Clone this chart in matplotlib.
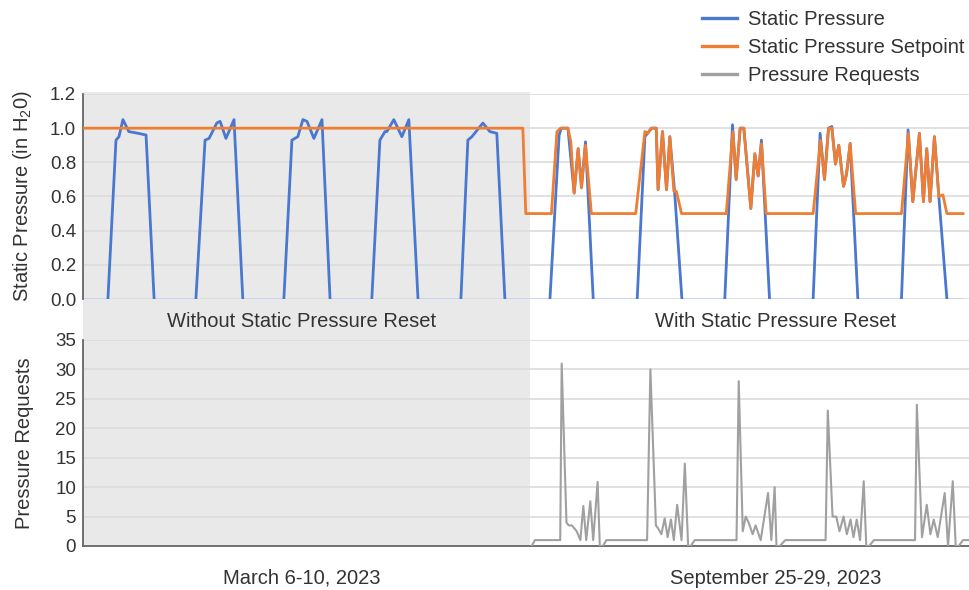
import numpy as np
import matplotlib
matplotlib.use("Agg")
import matplotlib.pyplot as plt
import matplotlib.transforms as mtransforms
from matplotlib.patches import Rectangle
from matplotlib.lines import Line2D

plt.rcParams['font.family'] = ['Liberation Sans', 'DejaVu Sans']
plt.rcParams['mathtext.default'] = 'regular'

# hours along a joined axis: March 6-10 (0-120), then September 25-29 (120-242)
sp_hours = [0, 6.8, 9.0, 9.8, 10.9, 12.5, 15.0, 17.2, 19.4,
            30.8, 33.3, 34.4, 36.5, 37.4, 39.0, 41.2, 43.6,
            54.8, 57.0, 58.6, 60.0, 61.1, 63.0, 65.2, 67.4,
            78.8, 81.0, 82.4, 82.9, 84.8, 87.0, 88.9, 91.4,
            103.1, 105.0, 106.1, 109.1, 111.0, 112.9, 115.1, 120.0,
            127.4, 129.9, 130.5, 132.3, 134.0, 135.1, 136.0, 137.1, 139.2,
            151.2, 153.3, 155.1, 156.4, 156.9, 158.1, 159.2, 160.1, 161.4, 163.4,
            175.1, 177.2, 178.2, 179.3, 180.3, 182.2, 183.3, 184.2, 185.1, 187.3,
            199.2, 201.1, 202.3, 203.4, 204.3, 205.3, 206.2, 207.5, 208.3, 209.3, 211.4,
            223.3, 225.1, 226.4, 228.2, 229.3, 230.2, 231.1, 232.3, 233.5, 235.7, 240.1]
sp_values = [0, 0, 0.93, 0.95, 1.05, 0.98, 0.97, 0.96, 0,
             0, 0.93, 0.94, 1.03, 1.04, 0.94, 1.05, 0,
             0, 0.93, 0.95, 1.05, 1.04, 0.94, 1.05, 0,
             0, 0.93, 0.98, 0.98, 1.05, 0.95, 1.05, 0,
             0, 0.93, 0.95, 1.03, 0.98, 0.97, 0, 0,
             0, 0.96, 1.0, 1.0, 0.62, 0.88, 0.66, 0.92, 0,
             0, 0.95, 1.0, 1.0, 0.64, 0.98, 0.64, 0.95, 0.63, 0,
             0, 1.02, 0.70, 1.0, 1.0, 0.53, 0.85, 0.72, 0.93, 0,
             0, 0.97, 0.70, 1.0, 1.01, 0.79, 0.90, 0.66, 0.73, 0.91, 0,
             0, 0.99, 0.57, 0.97, 0.57, 0.88, 0.57, 0.95, 0.60, 0, 0]

setpoint_hours = [0, 120.0, 120.8, 127.8, 129.3, 130.3, 132.3, 133.1, 134.0, 135.1, 136.0, 137.1, 138.7,
                  150.8, 153.3, 154.1, 155.1, 156.4, 156.9, 158.1, 159.2, 160.1, 161.2, 161.9, 163.3,
                  175.5, 177.3, 178.2, 179.3, 180.3, 182.2, 183.3, 184.2, 185.1, 186.4,
                  199.2, 201.2, 202.3, 203.4, 204.3, 205.3, 206.2, 207.5, 208.3, 209.3, 210.8,
                  223.3, 225.2, 226.4, 228.2, 229.3, 230.2, 231.1, 232.3, 233.5, 234.6, 235.7, 240.1]
setpoint_values = [1.0, 1.0, 0.5, 0.5, 0.98, 1.0, 1.0, 0.92, 0.62, 0.88, 0.65, 0.90, 0.5,
                   0.5, 0.98, 0.97, 1.0, 1.0, 0.64, 0.98, 0.64, 0.95, 0.63, 0.63, 0.5,
                   0.5, 0.98, 0.70, 1.0, 1.0, 0.53, 0.85, 0.72, 0.91, 0.5,
                   0.5, 0.93, 0.70, 1.0, 1.0, 0.79, 0.90, 0.66, 0.73, 0.91, 0.5,
                   0.5, 0.97, 0.57, 0.97, 0.57, 0.88, 0.57, 0.95, 0.60, 0.61, 0.5, 0.5]

req_hours = [122.4, 123.3, 130.2, 130.6, 131.9, 132.5, 133.4, 134.7, 135.7, 136.5, 137.3, 138.4, 139.2, 140.4, 141.0,
             141.8, 142.8, 153.9, 154.8, 156.3, 156.9, 157.8, 158.7, 159.5, 160.4, 161.2, 162.1, 163.3, 164.2, 165.1,
             165.8, 166.9, 178.3, 178.9, 180.0, 180.8, 181.6, 182.7, 183.5, 184.9, 186.9, 187.8, 188.7, 189.2,
             190.1, 191.6, 202.6, 203.2, 204.5, 205.5, 206.4, 207.5, 208.4, 209.4, 210.2, 211.1, 212.0, 213.0, 213.7,
             214.5, 215.8, 227.0, 227.5, 228.9, 230.2, 231.2, 232.1, 233.2, 235.1, 236.0, 237.3, 238.1, 238.9, 240.1, 241.9]
req_values = [0, 1, 1, 31, 4, 3.5, 3.5, 2.5, 1, 6.8, 1, 7.6, 1, 10.9, 0,
              0, 1, 1, 30, 3.5, 3, 2, 4.7, 1.5, 4.5, 1, 7, 1, 14, 0,
              0, 1, 1, 28, 2.5, 5, 4, 2, 3.5, 1, 9, 1, 10, 0,
              0, 1, 1, 23, 5, 5, 2.5, 5, 2, 4.5, 1.5, 4.5, 1, 11, 0,
              0, 1, 1, 24, 1.5, 7, 2, 4.5, 1.5, 9, 0, 11, 0, 0, 1, 1]

period_labels = ["Without Static Pressure Reset", "With Static Pressure Reset"]
date_labels = ["March 6-10, 2023", "September 25-29, 2023"]
shade_end = 121.9
x_max = 242

blue = '#4a78d0'
orange = '#ef7d32'
grey = '#a0a0a0'
txt = '#333333'
fs = 14.5

fig = plt.figure(figsize=(9.7, 5.9), dpi=100)
ax1 = fig.add_axes([83/970, 1 - 299/590, 887/970, 205/590])
ax2 = fig.add_axes([83/970, 1 - 546/590, 887/970, 206/590])

for ax in (ax1, ax2):
    ax.set_facecolor('none')
    ax.set_xlim(0, x_max)
    ax.set_xticks([])
    ax.grid(axis='y', color='#dcdcdc', lw=1.2)
    ax.set_axisbelow(True)
    ax.tick_params(axis='y', length=0, labelsize=13.5, labelcolor=txt, pad=5)
    for s in ('top', 'right'):
        ax.spines[s].set_visible(False)
    ax.spines['left'].set_color('#666666')
    ax.spines['left'].set_linewidth(1.3)

ax1.spines['bottom'].set_visible(False)
ax2.spines['bottom'].set_color('#666666')
ax2.spines['bottom'].set_linewidth(1.3)

# gray block behind the "without reset" period, spanning both panels
trans = mtransforms.blended_transform_factory(ax1.transData, fig.transFigure)
fig.add_artist(Rectangle((0, 1 - 546/590), shade_end, (546 - 92)/590,
                         transform=trans, color='#e9e9e9', zorder=-5, lw=0))

# static pressure: faint at zero, solid where the fan runs
sp_x = np.array(sp_hours, dtype=float)
sp_y = np.array(sp_values, dtype=float)
xs, ys = [], []
for i in range(len(sp_x)):
    xs.append(sp_x[i]); ys.append(sp_y[i])
    if i < len(sp_x) - 1 and sp_y[i] == 0 and sp_y[i + 1] == 0:
        xs.append(np.nan); ys.append(np.nan)
ax1.plot(sp_x, sp_y, color='#c4d3f0', lw=1.2, zorder=2)
ax1.plot(xs, ys, color=blue, lw=2.0, zorder=3)
ax1.plot(setpoint_hours, setpoint_values, color=orange, lw=2.0, zorder=4)

ax1.set_ylim(0, 1.2)
ax1.set_yticks(np.arange(0, 1.21, 0.2))
ax1.set_yticklabels([f"{v:.1f}" for v in np.arange(0, 1.21, 0.2)])
ax1.set_ylabel("Static Pressure (in H$_2$0)", fontsize=fs, color=txt)
ax1.yaxis.set_label_coords(-0.055, 0.5)

ax2.plot(req_hours, req_values, color=grey, lw=1.5, zorder=3)
ax2.set_ylim(0, 35)
ax2.set_yticks(range(0, 36, 5))
ax2.set_ylabel("Pressure Requests", fontsize=fs, color=txt)
ax2.yaxis.set_label_coords(-0.055, 0.5)

centers = [59.7, 189.0]
for c, pl, dl in zip(centers, period_labels, date_labels):
    ax1.text(c, 1 - 322/590, pl, transform=trans, ha='center', va='center',
             fontsize=fs, color=txt)
    ax1.text(c, 1 - 578/590, dl, transform=trans, ha='center', va='center',
             fontsize=fs, color=txt)

handles = [Line2D([], [], color=blue, lw=2.4),
           Line2D([], [], color=orange, lw=2.4),
           Line2D([], [], color=grey, lw=2.4)]
fig.legend(handles, ["Static Pressure", "Static Pressure Setpoint", "Pressure Requests"],
           loc='upper left', bbox_to_anchor=(694/970, 1 - 2/590), frameon=False,
           fontsize=fs, handlelength=1.75, handletextpad=0.55, labelspacing=0.45,
           labelcolor=txt, borderaxespad=0)

fig.savefig("out.png", dpi=100)
